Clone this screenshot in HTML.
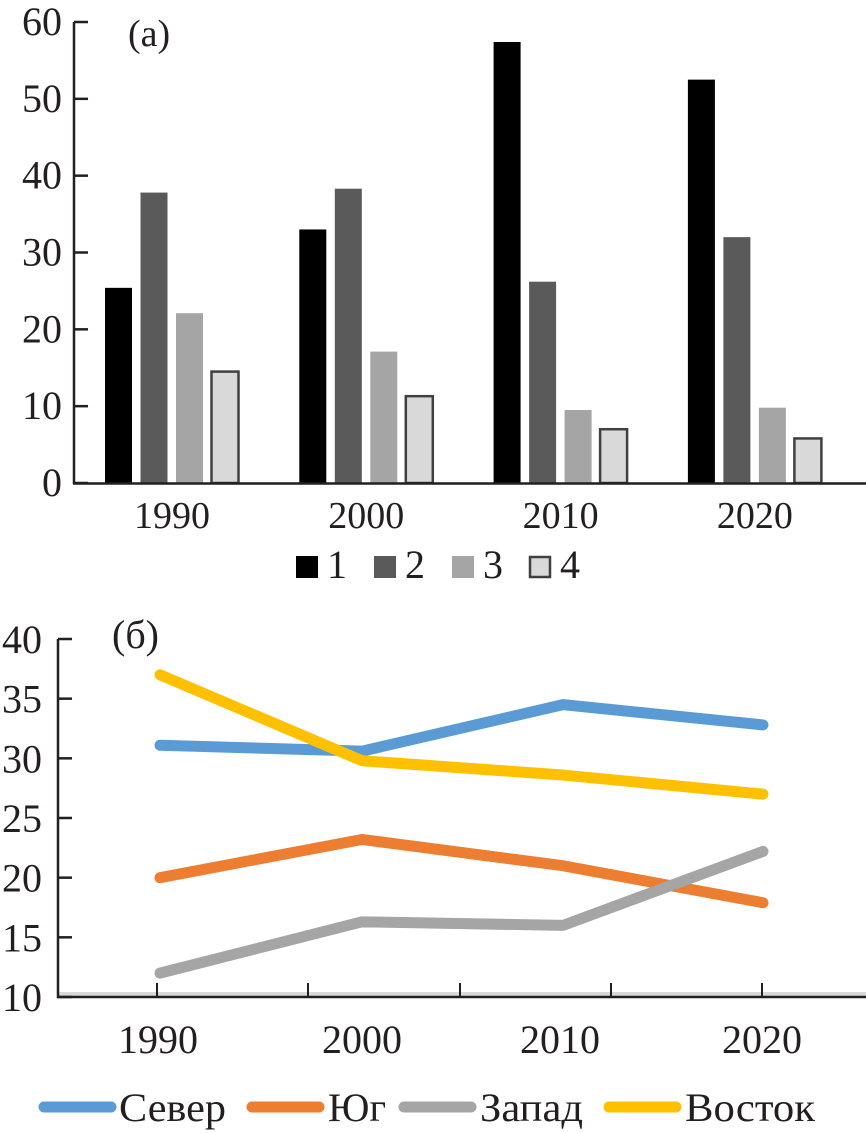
<!DOCTYPE html>
<html><head><meta charset="utf-8"><style>
html,body{margin:0;padding:0;background:#fff;width:866px;height:1133px;overflow:hidden}
svg text{font-family:"Liberation Serif",serif;fill:#231f20}
</style></head><body>
<svg id="c" width="866" height="1133" xmlns="http://www.w3.org/2000/svg">
<g id="top"></g>
<g id="bot"></g>
</svg>
<script>
const years = ["1990","2000","2010","2020"];
const barSeriesNames = ["1","2","3","4"];
const bar1 = [25.4, 33.0, 57.4, 52.5];
const bar2 = [37.8, 38.3, 26.2, 32.0];
const bar3 = [22.1, 17.1, 9.5, 9.8];
const bar4 = [14.5, 11.3, 7.0, 5.8];
const barTicks = [0,10,20,30,40,50,60];
const lineNames = ["Север","Юг","Запад","Восток"];
const sever = [31.1, 30.6, 34.5, 32.8];
const yug = [20.0, 23.2, 21.0, 17.9];
const zapad = [12.0, 16.3, 16.0, 22.2];
const vostok = [37.0, 29.8, 28.6, 27.0];
const lineTicks = [10,15,20,25,30,35,40];

const NS="http://www.w3.org/2000/svg";
function mk(p,tag,a,txt){const e=document.createElementNS(NS,tag);for(const k in a)e.setAttribute(k,a[k]);if(txt!==undefined)e.textContent=txt;p.appendChild(e);return e;}

// ---- top bar chart ----
const T=document.getElementById('top');
const by=v=>483-v*(461/60);
const groupX=i=>105+i*194.3;
const barFill=["#000000","#595a59","#a5a5a5","#d9d9d9"];
const barData=[bar1,bar2,bar3,bar4];
barData.forEach((s,si)=>{s.forEach((v,i)=>{
  const x=groupX(i)+si*35.5;
  const r=mk(T,'rect',{x:x,y:by(v),width:27,height:483-by(v),fill:barFill[si],stroke:si==3?"#404040":"none","stroke-width":si==3?2.5:0});
  
  
});});
let ax=mk(T,'line',{x1:74,y1:by(60),x2:74,y2:484,stroke:"#231f20","stroke-width":2.5});

ax=mk(T,'line',{x1:73,y1:483.5,x2:866,y2:483.5,stroke:"#231f20","stroke-width":2.5});

barTicks.forEach(t=>{
  mk(T,'line',{x1:74,y1:by(t),x2:88,y2:by(t),stroke:"#231f20","stroke-width":2.5});
  const l=mk(T,'text',{x:62,y:by(t)+13,"font-size":40,"text-anchor":"end"},String(t));
  
});
years.forEach((y,i)=>{
  const l=mk(T,'text',{x:groupX(i)+67,y:528,"font-size":38,"text-anchor":"middle"},y);
  
});
let lab=mk(T,'text',{x:128,y:46,"font-size":38},"(a)");

const legX=[296,374,452,529];
barSeriesNames.forEach((n,i)=>{
  const g=mk(T,'g',{});
  
  mk(g,'rect',{x:legX[i]+(i==3?1:0),y:556+(i==3?1:0),width:i==3?20:22,height:i==3?20:22,fill:barFill[i],stroke:i==3?"#404040":"none","stroke-width":i==3?2.5:0});
  mk(g,'text',{x:legX[i]+31,y:578,"font-size":40},n);
});

// ---- bottom line chart ----
const B=document.getElementById('bot');
const ly=v=>997-(v-10)*(358/30);
const px=[160,362,563,763];
mk(B,'rect',{x:58,y:992,width:808,height:4,fill:"#d9d9d9"});
ax=mk(B,'line',{x1:58,y1:639,x2:58,y2:998,stroke:"#231f20","stroke-width":2.5});

ax=mk(B,'line',{x1:57,y1:997,x2:866,y2:997,stroke:"#231f20","stroke-width":2.5});

[157,308,460,611,762].forEach(x=>mk(B,'line',{x1:x,y1:997,x2:x,y2:983,stroke:"#231f20","stroke-width":2}));
lineTicks.forEach(t=>{
  mk(B,'line',{x1:58,y1:ly(t),x2:72,y2:ly(t),stroke:"#231f20","stroke-width":2.5});
  const l=mk(B,'text',{x:42,y:ly(t)+14,"font-size":40,"text-anchor":"end"},String(t));
  
});
const yrX=[158,362,560,762];
years.forEach((y,i)=>{
  const l=mk(B,'text',{x:yrX[i],y:1053,"font-size":40,"text-anchor":"middle"},y);
  
});
lab=mk(B,'text',{x:112,y:648,"font-size":40},"(б)");

const lineCol=["#5b9bd5","#ed7d31","#a5a5a5","#ffc000"];
const lineData=[sever,yug,zapad,vostok];
lineData.forEach((s,si)=>{
  const p=mk(B,'polyline',{points:s.map((v,i)=>px[i]+","+ly(v)).join(" "),fill:"none",stroke:lineCol[si],"stroke-width":11,"stroke-linecap":"round","stroke-linejoin":"round"});
  
  
});
const lgLine=[39,247,399,604], lgText=[119,328,480,685], lgW=[107,58,103,130];
lineNames.forEach((n,i)=>{
  const g=mk(B,'g',{});
  
  mk(g,'line',{x1:lgLine[i]+5,y1:1107,x2:lgLine[i]+72,y2:1107,stroke:lineCol[i],"stroke-width":11,"stroke-linecap":"round"});
  mk(g,'text',{x:lgText[i],y:1121,"font-size":40,textLength:lgW[i],lengthAdjust:"spacingAndGlyphs"},n);
});
</script>
</body></html>
